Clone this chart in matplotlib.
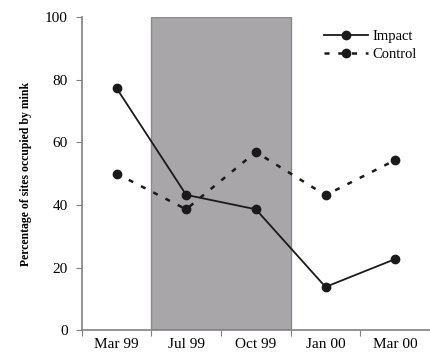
import matplotlib.pyplot as plt
import numpy as np

months = ['Mar 99', 'Jul 99', 'Oct 99', 'Jan 00', 'Mar 00']
impact = [77.3, 43.2, 38.6, 13.8, 22.7]
control = [50, 38.6, 56.9, 43.1, 54.3]
shade_from, shade_to = 1, 3

plt.rcParams['font.family'] = ['Liberation Serif', 'DejaVu Serif']

fig = plt.figure(figsize=(4.3, 3.55), dpi=100)
ax = fig.add_axes([0.19, 0.07, 0.81, 0.882])

x = np.arange(len(months)) + 0.5
ax.axvspan(shade_from, shade_to, ymin=0, ymax=1, facecolor='#a8a6a8', edgecolor='#8a8a8a', lw=1, zorder=0)
ax.plot(x, impact, '-', color='#1a1a1a', lw=1.3, marker='o', ms=6, label='Impact', clip_on=False)
ax.plot(x, control, color='#1a1a1a', lw=1.8, ls=(0, (2, 3.5)), marker='o', ms=6, label='Control', clip_on=False)

ax.set_xlim(0, 4.94)
ax.set_ylim(0, 100)
ax.set_yticks(range(0, 101, 20))
ax.set_xticks(range(0, 6))
ax.set_xticklabels([])
ax.set_xticks(x, minor=True)
ax.set_xticklabels(months, minor=True, fontsize=11)
ax.tick_params(axis='x', which='minor', length=0, pad=6)
ax.tick_params(axis='x', which='major', length=4, direction='out', color='#808080')
ax.tick_params(axis='y', length=4, direction='out', color='#808080', labelsize=11, pad=6)
for s in ['top', 'right']:
    ax.spines[s].set_visible(False)
for s in ['left', 'bottom']:
    ax.spines[s].set_color('#808080')
    ax.spines[s].set_linewidth(1.2)

ax.set_ylabel('Percentage of sites occupied by mink', fontsize=8.5, fontweight='bold', labelpad=9)
ax.legend(loc='upper right', bbox_to_anchor=(1.0, 1.0), frameon=False, fontsize=10.5, handlelength=3, handletextpad=0.3, labelspacing=0.3)

fig.savefig('out.png', dpi=100)
